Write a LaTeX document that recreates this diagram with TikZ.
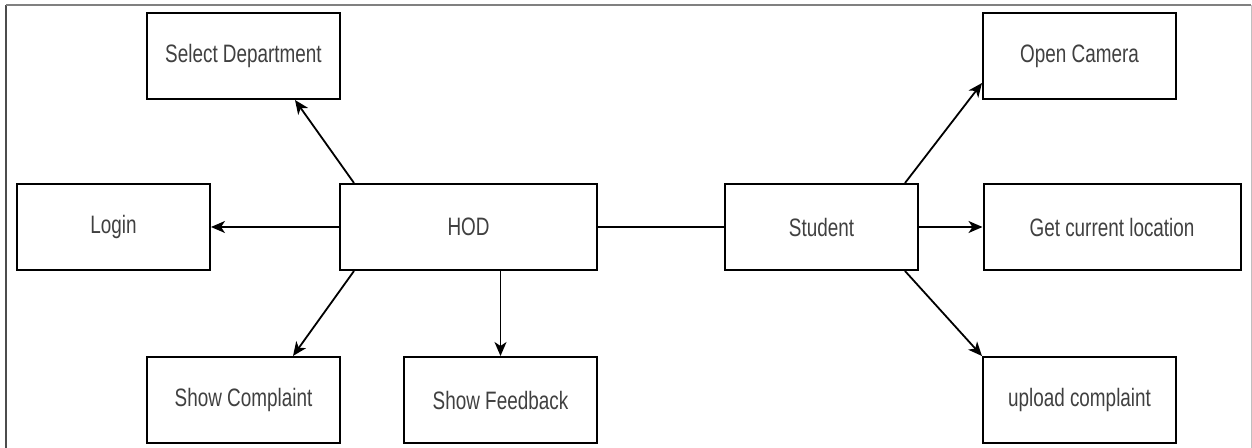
\documentclass[tikz,border=0pt]{standalone}
\usepackage{fontspec}
\setmainfont{Liberation Sans}[FakeStretch=0.75]
\usetikzlibrary{arrows.meta,calc}
\begin{document}
\begin{tikzpicture}[x=0.5pt,y=-0.5pt,
  box/.style={draw=black,line width=1pt,minimum height=43pt,minimum width=96.5pt,inner sep=0pt,
    font=\fontsize{12.6pt}{14pt}\selectfont,text=black!75},
  wide/.style={minimum width=128.5pt},
  conn/.style={draw=black,line width=0.9pt},
  arr/.style={conn,-{Stealth[length=7pt,width=6pt,inset=2pt]}}]
\useasboundingbox (0,0) rectangle (1252,448);
\draw[black!70,line width=0.8pt] (6,448) -- (6,5);
\draw[black!50,line width=0.9pt] (6,5) -- (1251,5);
\draw[black!25,line width=0.5pt] (1251,5) -- (1251,448);
\node[box] (sel) at (243.5,56) {Select Department};
\node[box] (login) at (113.5,227) {Login};
\node[box,wide] (hod) at (468.5,227) {HOD};
\node[box] (showc) at (243.5,400) {Show Complaint};
\node[box] (showf) at (500.5,400) {Show Feedback};
\node[box] (student) at (821.5,227) {Student};
\node[box] (cam) at (1079.5,56) {Open Camera};
\node[box,wide] (loc) at (1112,227) {Get current location};
\node[box] (upload) at (1079.5,400) {upload complaint};
\draw[arr] ($(hod.north west)+(15,0)$) -- ($(sel.south east)+(-46,0)$);
\draw[arr] (hod.west) -- (login.east);
\draw[arr] ($(hod.south west)+(15,0)$) -- ($(showc.north east)+(-48,0)$);
\draw[arr] (showf.north |- hod.south) -- (showf.north);
\draw[conn] (hod.east) -- (student.west);
\draw[arr] ($(student.north east)+(-14,0)$) -- ($(cam.south west)+(0,-17)$);
\draw[arr] (student.east) -- (loc.west);
\draw[arr] ($(student.south east)+(-14,0)$) -- (upload.north west);
\end{tikzpicture}
\end{document}
